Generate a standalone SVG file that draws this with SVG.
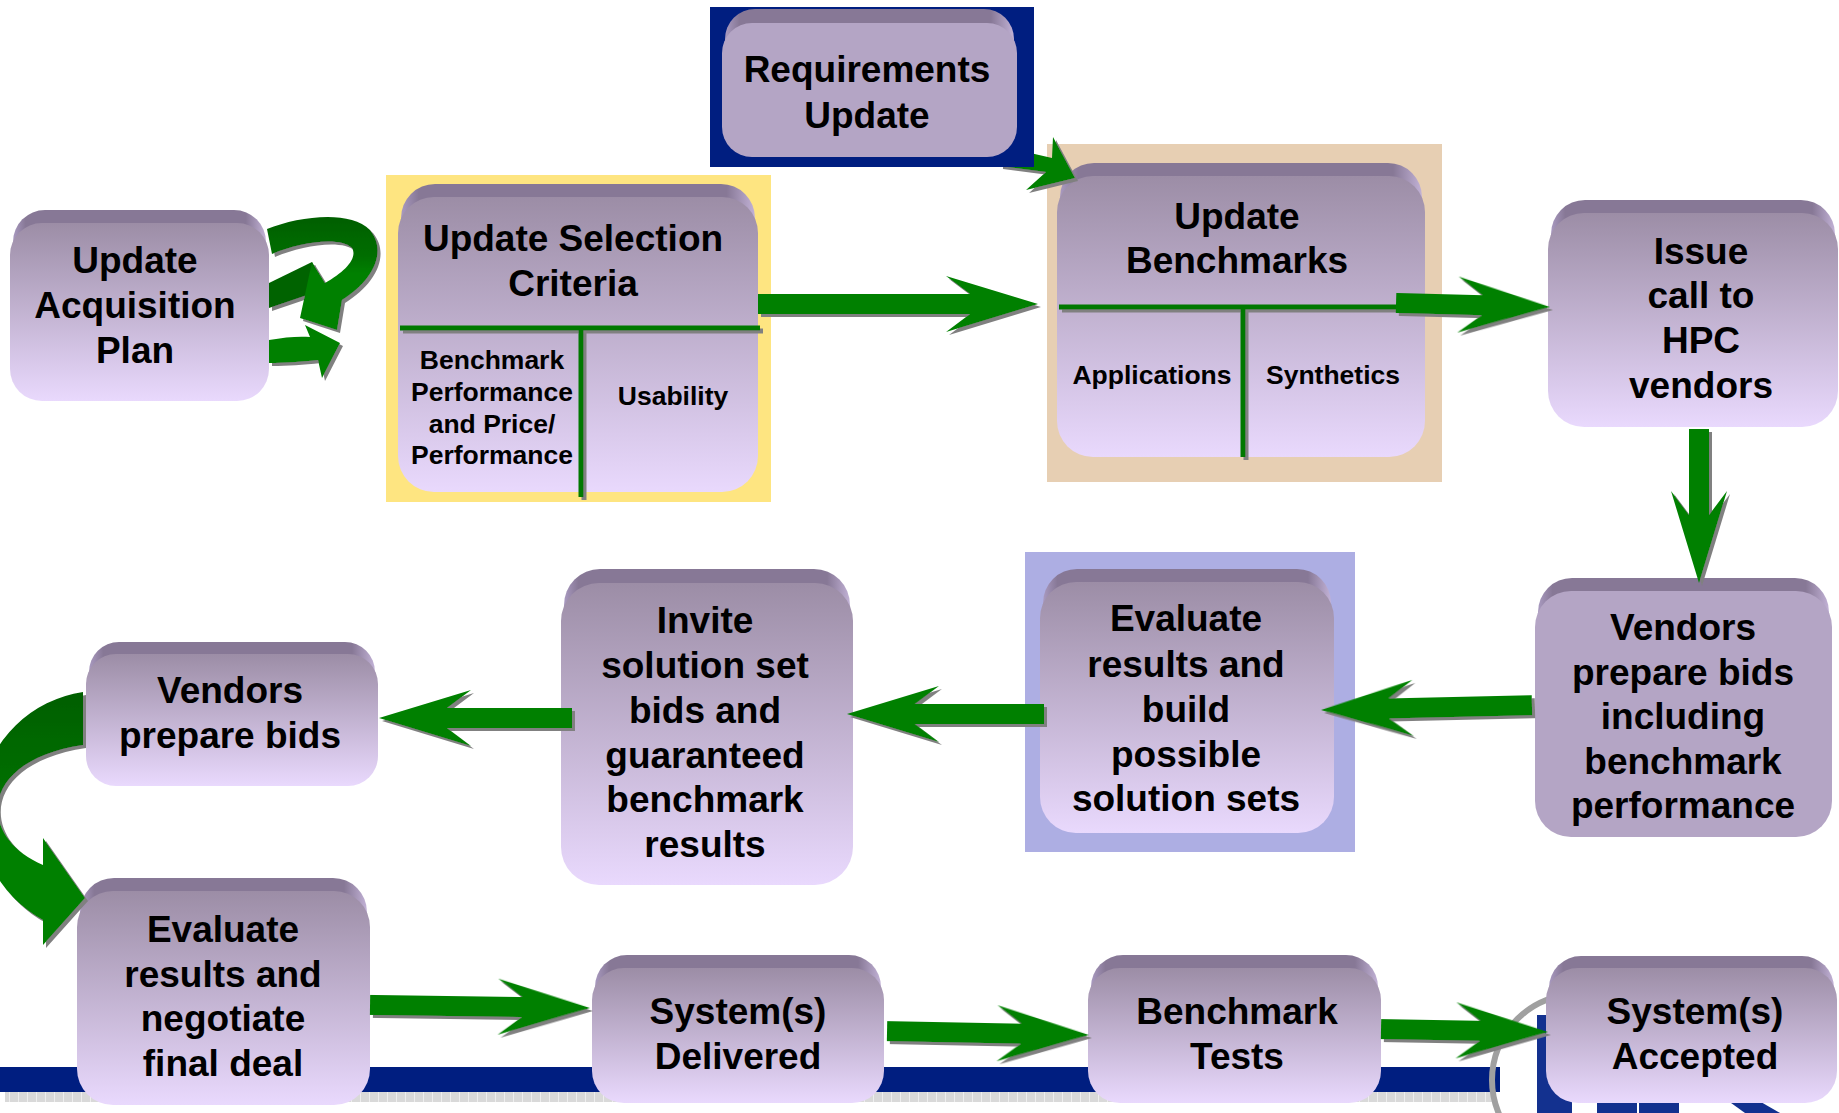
<svg xmlns="http://www.w3.org/2000/svg" width="1839" height="1113" viewBox="0 0 1839 1113">
<defs>
<style>
.t{font-family:"Liberation Sans",Arial,sans-serif;font-weight:bold;font-size:37px;text-anchor:middle;fill:#000}
.s{font-size:26.5px}
.face{fill:url(#face)}
.flat{fill:#b4a5c5}
.lip{fill:url(#lip)}
.arr{fill:#008000}
.div{stroke:#007800;stroke-width:5;fill:none}
</style>
<linearGradient id="face" x1="0" y1="0" x2="0" y2="1"><stop offset="0" stop-color="#9c8da6"/><stop offset="1" stop-color="#e9d9fd"/></linearGradient>
<linearGradient id="lip" x1="0" y1="0" x2="1" y2="0"><stop offset="0" stop-color="#a99ac0"/><stop offset="0.05" stop-color="#877896"/><stop offset="0.92" stop-color="#877896"/><stop offset="1" stop-color="#c2b2d6"/></linearGradient>
<linearGradient id="dkg" x1="0" y1="0" x2="0" y2="1"><stop offset="0" stop-color="#005f00"/><stop offset="0.35" stop-color="#006e00"/><stop offset="0.5" stop-color="#008000"/></linearGradient>
<filter id="sh" x="-20%" y="-20%" width="140%" height="140%"><feDropShadow dx="3" dy="3" stdDeviation="0.6" flood-color="#808080" flood-opacity="1"/></filter>
<pattern id="grid" width="9" height="10" patternUnits="userSpaceOnUse"><rect width="9" height="10" fill="#d9d9d9"/><path d="M0.5,0V10" stroke="#eeeeee" stroke-width="1"/></pattern>
</defs>
<rect width="1839" height="1113" fill="#fff"/>

<!-- bottom band and logo -->
<g id="band">
<rect x="0" y="1067" width="1500" height="25" fill="#001e80"/>
<rect x="5" y="1092" width="1490" height="10" fill="url(#grid)"/>
<circle cx="1578" cy="1080" r="86" fill="none" stroke="#a0a0a0" stroke-width="6"/>
<rect x="1537" y="1015" width="35" height="98" fill="#13318f"/>
<rect x="1597" y="1090" width="40" height="23" fill="#13318f"/>
<rect x="1639" y="1090" width="40" height="23" fill="#13318f"/>
<path d="M1713,1090 L1740,1090 L1780,1113 L1745,1113 Z" fill="#13318f"/>
</g>

<!-- backgrounds -->
<rect x="386" y="175" width="385" height="327" fill="#fee581"/>
<rect x="1047" y="144" width="395" height="338" fill="#e7cfb3"/>
<rect x="1025" y="552" width="330" height="300" fill="#adaee3"/>

<g id="n-acq">
<rect class="lip" x="13" y="210" width="253" height="80" rx="32"/>
<rect class="face" x="10" y="223" width="259" height="178" rx="32"/>
<text class="t" x="135" y="273">Update</text>
<text class="t" x="135" y="318">Acquisition</text>
<text class="t" x="135" y="363">Plan</text>
</g>

<g id="n-criteria">
<rect class="lip" x="401" y="184" width="354" height="80" rx="34"/>
<rect class="face" x="398" y="197" width="360" height="295" rx="36"/>
<text class="t" x="573" y="251">Update Selection</text>
<text class="t" x="573" y="296">Criteria</text>
<g filter="url(#sh)">
<path class="div" d="M400,328 H760 M581,328 V497"/>
</g>
<text class="t s" x="492" y="369">Benchmark</text>
<text class="t s" x="492" y="401">Performance</text>
<text class="t s" x="492" y="433">and Price/</text>
<text class="t s" x="492" y="464">Performance</text>
<text class="t s" x="673" y="405">Usability</text>
</g>

<g id="n-bench">
<rect class="lip" x="1060" y="163" width="362" height="80" rx="34"/>
<rect class="face" x="1057" y="176" width="368" height="281" rx="36"/>
<text class="t" x="1237" y="229">Update</text>
<text class="t" x="1237" y="273">Benchmarks</text>
<g filter="url(#sh)">
<path class="div" d="M1059,307 H1400 M1243,307 V457"/>
</g>
<text class="t s" x="1152" y="384">Applications</text>
<text class="t s" x="1333" y="384">Synthetics</text>
</g>

<g id="n-issue">
<rect class="lip" x="1551" y="200" width="284" height="80" rx="34"/>
<rect class="face" x="1548" y="213" width="290" height="214" rx="36"/>
<text class="t" x="1701" y="264">Issue</text>
<text class="t" x="1701" y="308">call to</text>
<text class="t" x="1701" y="353">HPC</text>
<text class="t" x="1701" y="398">vendors</text>
</g>

<g id="n-vendors-bench">
<rect class="lip" x="1538" y="578" width="291" height="80" rx="34"/>
<rect class="flat" x="1535" y="591" width="297" height="246" rx="36"/>
<text class="t" x="1683" y="640">Vendors</text>
<text class="t" x="1683" y="684.5">prepare bids</text>
<text class="t" x="1683" y="729">including</text>
<text class="t" x="1683" y="773.5">benchmark</text>
<text class="t" x="1683" y="818">performance</text>
</g>

<g id="n-eval-build">
<rect class="lip" x="1043" y="569" width="288" height="80" rx="34"/>
<rect class="face" x="1040" y="582" width="294" height="251" rx="36"/>
<text class="t" x="1186" y="631">Evaluate</text>
<text class="t" x="1186" y="677">results and</text>
<text class="t" x="1186" y="722">build</text>
<text class="t" x="1186" y="767">possible</text>
<text class="t" x="1186" y="811">solution sets</text>
</g>

<g id="n-invite">
<rect class="lip" x="564" y="569" width="286" height="80" rx="36"/>
<rect class="face" x="561" y="583" width="292" height="302" rx="38"/>
<text class="t" x="705" y="633">Invite</text>
<text class="t" x="705" y="678">solution set</text>
<text class="t" x="705" y="723">bids and</text>
<text class="t" x="705" y="768">guaranteed</text>
<text class="t" x="705" y="812">benchmark</text>
<text class="t" x="705" y="857">results</text>
</g>

<g id="n-vendors">
<rect class="lip" x="89" y="642" width="286" height="80" rx="30"/>
<rect class="face" x="86" y="654" width="292" height="132" rx="30"/>
<text class="t" x="230" y="703">Vendors</text>
<text class="t" x="230" y="748">prepare bids</text>
</g>

<g id="n-negotiate">
<rect class="lip" x="80" y="878" width="287" height="80" rx="34"/>
<rect class="face" x="77" y="891" width="293" height="214" rx="36"/>
<text class="t" x="223" y="942">Evaluate</text>
<text class="t" x="223" y="986.5">results and</text>
<text class="t" x="223" y="1031">negotiate</text>
<text class="t" x="223" y="1075.5">final deal</text>
</g>

<g id="n-delivered">
<rect class="lip" x="595" y="955" width="286" height="80" rx="32"/>
<rect class="face" x="592" y="968" width="292" height="135" rx="32"/>
<text class="t" x="738" y="1024">System(s)</text>
<text class="t" x="738" y="1069">Delivered</text>
</g>

<g id="n-tests">
<rect class="lip" x="1091" y="955" width="287" height="80" rx="32"/>
<rect class="face" x="1088" y="968" width="293" height="135" rx="32"/>
<text class="t" x="1237" y="1024">Benchmark</text>
<text class="t" x="1237" y="1069">Tests</text>
</g>

<g id="n-accepted">
<rect class="lip" x="1549" y="956" width="285" height="80" rx="32"/>
<rect class="face" x="1546" y="968" width="291" height="135" rx="32"/>
<text class="t" x="1695" y="1024">System(s)</text>
<text class="t" x="1695" y="1069">Accepted</text>
</g>

<g id="connectors" filter="url(#sh)">
<!-- loop near acquisition plan -->
<path fill="#006400" d="M269,283 L312,262 L322,290 L269,308 Z"/>
<path fill="url(#dkg)" d="M267,229 C300,216 350,210 370,230 C388,252 372,282 342,300 L337,330 L300,318 L312,262 L325,283 C345,272 358,258 352,248 C340,236 300,242 272,254 Z"/>
<path class="arr" d="M269,340 C285,337 300,336 310,337 L305,325 L340,343 L322,378 L318,360 C300,362 285,363 269,363 Z"/>
<!-- straight arrows -->
<path class="arr" transform="translate(1038,304)" d="M0,0 L-92,-28 L-68,-10 L-280,-10 L-280,10 L-68,10 L-92,28 Z"/>
<path class="arr" transform="translate(1550,307) rotate(1.5)" d="M0,0 L-92,-28 L-68,-10 L-154,-10 L-154,10 L-68,10 L-92,28 Z"/>
<path class="arr" transform="translate(1699,583) rotate(90)" d="M0,0 L-92,-28 L-68,-10 L-154,-10 L-154,10 L-68,10 L-92,28 Z"/>
<path class="arr" transform="translate(1321,710) rotate(178.7)" d="M0,0 L-92,-28 L-68,-10 L-211,-10 L-211,10 L-68,10 L-92,28 Z"/>
<path class="arr" transform="translate(847,714) rotate(180)" d="M0,0 L-92,-28 L-68,-10 L-197,-10 L-197,10 L-68,10 L-92,28 Z"/>
<path class="arr" transform="translate(379,718) rotate(180)" d="M0,0 L-92,-28 L-68,-10 L-193,-10 L-193,10 L-68,10 L-92,28 Z"/>
<path class="arr" transform="translate(590,1008) rotate(0.8)" d="M0,0 L-92,-28 L-68,-10 L-220,-10 L-220,10 L-68,10 L-92,28 Z"/>
<path class="arr" transform="translate(1089,1035) rotate(1.1)" d="M0,0 L-92,-28 L-68,-10 L-202,-10 L-202,10 L-68,10 L-92,28 Z"/>
<path class="arr" transform="translate(1548,1032) rotate(1)" d="M0,0 L-92,-28 L-68,-10 L-167,-10 L-167,10 L-68,10 L-92,28 Z"/>
<!-- requirements to benchmarks -->
<path class="arr" d="M1075,178 L1053,137 L1052,158 L1000,146 L1000,166 L1046,172 L1026,190 Z"/>
<!-- C-shaped arrow from vendors to negotiate -->
<path fill="url(#dkg)" d="M83,692 A122,122 0 0,0 43,920 L43,945 L85,898 L43,838 L43,865 C-25,835 -20,760 83,745 Z"/>
</g>

<g id="n-req">
<rect x="710" y="7" width="324" height="160" fill="#001e80"/>
<rect class="lip" x="725" y="9" width="289" height="80" rx="30"/>
<rect class="flat" x="722" y="23" width="295" height="134" rx="30"/>
<text class="t" x="867" y="82">Requirements</text>
<text class="t" x="867" y="128">Update</text>
</g>
</svg>
